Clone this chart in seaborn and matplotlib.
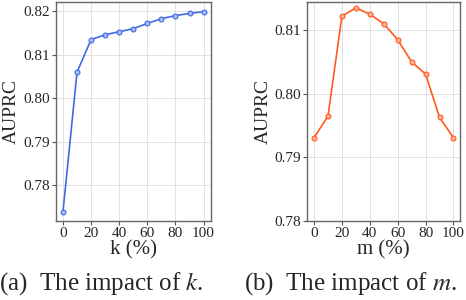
import matplotlib
matplotlib.use("Agg")
import matplotlib.pyplot as plt
import seaborn as sns
import pandas as pd

k_values = [0, 10, 20, 30, 40, 50, 60, 70, 80, 90, 100]
k_auprc = [0.7739, 0.8060, 0.8135, 0.8146, 0.8153, 0.8160, 0.8172, 0.8183, 0.8190, 0.8195, 0.8199]
m_values = [0, 10, 20, 30, 40, 50, 60, 70, 80, 90, 100]
m_auprc = [0.7931, 0.7965, 0.8122, 0.8135, 0.8125, 0.8110, 0.8085, 0.8050, 0.8031, 0.7963, 0.7931]
x_ticks = [0, 20, 40, 60, 80, 100]
k_yticks = [0.78, 0.79, 0.80, 0.81, 0.82]
m_yticks = [0.78, 0.79, 0.80, 0.81]

sns.set_theme(style="whitegrid")
plt.rcParams['font.family'] = ['Liberation Serif', 'DejaVu Serif']
plt.rcParams['mathtext.fontset'] = 'stix'

fig = plt.figure(figsize=(4.66, 3.0), dpi=100)
ax1 = fig.add_axes([0.120, 0.263, 0.332, 0.730])
ax2 = fig.add_axes([0.659, 0.263, 0.329, 0.730])

df_k = pd.DataFrame({"k": k_values, "AUPRC": k_auprc})
df_m = pd.DataFrame({"m": m_values, "AUPRC": m_auprc})

blue = "#4169e1"
orange = "#ff5a1f"
sns.lineplot(data=df_k, x="k", y="AUPRC", ax=ax1, color=blue, marker="o",
             markersize=3.5, markerfacecolor="#a9baf5", markeredgecolor=blue,
             markeredgewidth=0.8, linewidth=1.2)
sns.lineplot(data=df_m, x="m", y="AUPRC", ax=ax2, color=orange, marker="o",
             markersize=3.5, markerfacecolor="#ffb199", markeredgecolor=orange,
             markeredgewidth=0.8, linewidth=1.2)

for ax, xl, yt, ylim in [(ax1, "k (%)", k_yticks, (0.7718, 0.8221)),
                         (ax2, "m (%)", m_yticks, (0.78, 0.8144))]:
    ax.set_xlim(-5, 105)
    ax.set_ylim(*ylim)
    ax.set_xticks(x_ticks)
    ax.set_yticks(yt)
    ax.set_yticklabels([f"{v:.2f}" for v in yt])
    ax.set_xlabel(xl, fontsize=15, labelpad=0)
    ax.set_ylabel("AUPRC", fontsize=14, labelpad=2)
    ax.tick_params(axis='both', labelsize=11, length=3, width=0.8, color="#555555", pad=1.5, direction='out')
    ax.tick_params(axis='both', which='both', bottom=True, left=True)
    ax.grid(True, color="#dddddd", linewidth=0.6)
    for s in ax.spines.values():
        s.set_color("#666666")
        s.set_linewidth(1.0)
    ax.set_facecolor("white")

fig.text(0.218, 0.035, "(a)  The impact of $k$.", ha="center", fontsize=18)
fig.text(0.751, 0.035, "(b)  The impact of $m$.", ha="center", fontsize=18)

fig.savefig("out.png", dpi=100)
